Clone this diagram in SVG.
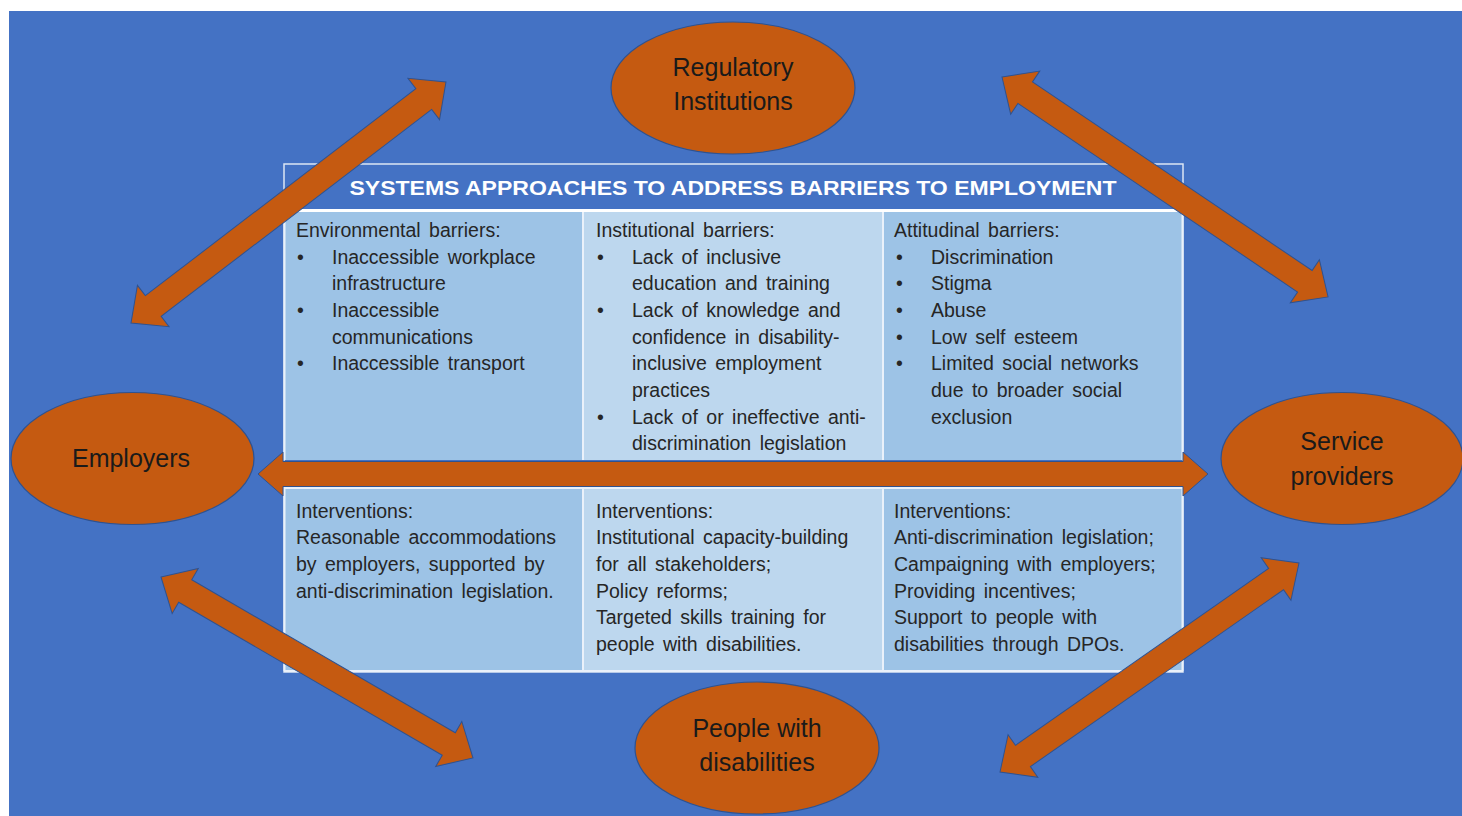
<svg xmlns="http://www.w3.org/2000/svg" width="1462" height="816" viewBox="0 0 1462 816">
<style>
.bg{fill:#4472C4;}
.node{fill:#C55A11;stroke:#2F528F;stroke-width:1.2;}
.arrow{fill:#C55A11;stroke:#2F528F;stroke-width:1;}
.ntext{font-family:"Liberation Sans",Arial,sans-serif;font-size:25px;fill:#1a1a1a;text-anchor:middle;}
.ctext{font-family:"Liberation Sans",Arial,sans-serif;font-size:19.5px;word-spacing:3px;fill:#262626;}
.title{font-family:"Liberation Sans",Arial,sans-serif;font-size:21px;font-weight:bold;fill:#ffffff;text-anchor:middle;}
.c1{fill:#9DC3E6;}
.c2{fill:#BDD7EE;}
.sep{stroke:#EAF1FA;stroke-width:2;fill:none;}
</style>
<rect class="bg" x="9" y="11" width="1453" height="805"/>

<g id="table">
  <rect x="284" y="164" width="899" height="508" fill="none" stroke="#DCE6F4" stroke-width="1.5"/>
  <text class="title" x="733" y="195" textLength="767" lengthAdjust="spacingAndGlyphs">SYSTEMS APPROACHES TO ADDRESS BARRIERS TO EMPLOYMENT</text>
  <line x1="284" y1="210.5" x2="1183" y2="210.5" stroke="#FFFFFF" stroke-width="3"/>
  <rect class="c1" x="285" y="212" width="298" height="248"/>
  <rect class="c2" x="583" y="212" width="300" height="248"/>
  <rect class="c1" x="883" y="212" width="299" height="248"/>
  <rect class="c1" x="285" y="487" width="298" height="183"/>
  <rect class="c2" x="583" y="487" width="300" height="183"/>
  <rect class="c1" x="883" y="487" width="299" height="183"/>
  <line class="sep" x1="583" y1="212" x2="583" y2="460"/>
  <line class="sep" x1="883" y1="212" x2="883" y2="460"/>
  <line class="sep" x1="583" y1="487" x2="583" y2="670"/>
  <line class="sep" x1="883" y1="487" x2="883" y2="670"/>
  <line class="sep" x1="284" y1="488" x2="1183" y2="488"/>
  <line class="sep" x1="284" y1="671" x2="1183" y2="671"/>
  <line class="sep" x1="284.5" y1="212" x2="284.5" y2="460"/>
  <line class="sep" x1="1182.5" y1="212" x2="1182.5" y2="460"/>
  <line class="sep" x1="284.5" y1="487" x2="284.5" y2="671"/>
  <line class="sep" x1="1182.5" y1="487" x2="1182.5" y2="671"/>

  <g id="cell-environmental" class="ctext">
    <text x="296" y="237">Environmental barriers:</text>
    <text x="297" y="264">•</text><text x="332" y="264">Inaccessible workplace</text>
    <text x="332" y="290">infrastructure</text>
    <text x="297" y="317">•</text><text x="332" y="317">Inaccessible</text>
    <text x="332" y="344">communications</text>
    <text x="297" y="370">•</text><text x="332" y="370">Inaccessible transport</text>
  </g>
  <g id="cell-institutional" class="ctext">
    <text x="596" y="237">Institutional barriers:</text>
    <text x="597" y="264">•</text><text x="632" y="264">Lack of inclusive</text>
    <text x="632" y="290">education and training</text>
    <text x="597" y="317">•</text><text x="632" y="317">Lack of knowledge and</text>
    <text x="632" y="344">confidence in disability-</text>
    <text x="632" y="370">inclusive employment</text>
    <text x="632" y="397">practices</text>
    <text x="597" y="424">•</text><text x="632" y="424">Lack of or ineffective anti-</text>
    <text x="632" y="450">discrimination legislation</text>
  </g>
  <g id="cell-attitudinal" class="ctext">
    <text x="894" y="237">Attitudinal barriers:</text>
    <text x="896" y="264">•</text><text x="931" y="264">Discrimination</text>
    <text x="896" y="290">•</text><text x="931" y="290">Stigma</text>
    <text x="896" y="317">•</text><text x="931" y="317">Abuse</text>
    <text x="896" y="344">•</text><text x="931" y="344">Low self esteem</text>
    <text x="896" y="370">•</text><text x="931" y="370">Limited social networks</text>
    <text x="931" y="397">due to broader social</text>
    <text x="931" y="424">exclusion</text>
  </g>
  <g id="cell-int-environmental" class="ctext">
    <text x="296" y="518">Interventions:</text>
    <text x="296" y="544">Reasonable accommodations</text>
    <text x="296" y="571">by employers, supported by</text>
    <text x="296" y="598">anti-discrimination legislation.</text>
  </g>
  <g id="cell-int-institutional" class="ctext">
    <text x="596" y="518">Interventions:</text>
    <text x="596" y="544">Institutional capacity-building</text>
    <text x="596" y="571">for all stakeholders;</text>
    <text x="596" y="598">Policy reforms;</text>
    <text x="596" y="624">Targeted skills training for</text>
    <text x="596" y="651">people with disabilities.</text>
  </g>
  <g id="cell-int-attitudinal" class="ctext">
    <text x="894" y="518">Interventions:</text>
    <text x="894" y="544">Anti-discrimination legislation;</text>
    <text x="894" y="571">Campaigning with employers;</text>
    <text x="894" y="598">Providing incentives;</text>
    <text x="894" y="624">Support to people with</text>
    <text x="894" y="651">disabilities through DPOs.</text>
  </g>
</g>

<g id="connectors">
  <polygon class="arrow" points="258,474 283,452 283,461.5 1183,461.5 1183,452 1208,474 1183,496 1183,486.5 283,486.5 283,496"/>
  <polygon class="arrow" transform="translate(131,323) rotate(-37.42)" points="0,0 28,-26 28,-13 368.6,-13 368.6,-26 396.6,0 368.6,26 368.6,13 28,13 28,26"/>
  <polygon class="arrow" transform="translate(1002,77) rotate(34)" points="0,0 28,-26 28,-13 365.3,-13 365.3,-26 393.3,0 365.3,26 365.3,13 28,13 28,26"/>
  <polygon class="arrow" transform="translate(161,577) rotate(30.12)" points="0,0 28,-26 28,-13 332.7,-13 332.7,-26 360.7,0 332.7,26 332.7,13 28,13 28,26"/>
  <polygon class="arrow" transform="translate(1000,772) rotate(-34.95)" points="0,0 28,-26 28,-13 336.8,-13 336.8,-26 364.8,0 336.8,26 336.8,13 28,13 28,26"/>
</g>

<g id="node-regulatory">
  <ellipse class="node" cx="733" cy="88" rx="122" ry="66"/>
  <text class="ntext" x="733" y="76">Regulatory</text>
  <text class="ntext" x="733" y="110">Institutions</text>
</g>
<g id="node-employers">
  <ellipse class="node" cx="132.5" cy="458.5" rx="121.5" ry="66"/>
  <text class="ntext" x="131" y="467">Employers</text>
</g>
<g id="node-service">
  <ellipse class="node" cx="1342" cy="458.5" rx="121" ry="66"/>
  <text class="ntext" x="1342" y="450">Service</text>
  <text class="ntext" x="1342" y="485">providers</text>
</g>
<g id="node-people">
  <ellipse class="node" cx="757" cy="748" rx="122" ry="66"/>
  <text class="ntext" x="757" y="737">People with</text>
  <text class="ntext" x="757" y="771">disabilities</text>
</g>
</svg>
